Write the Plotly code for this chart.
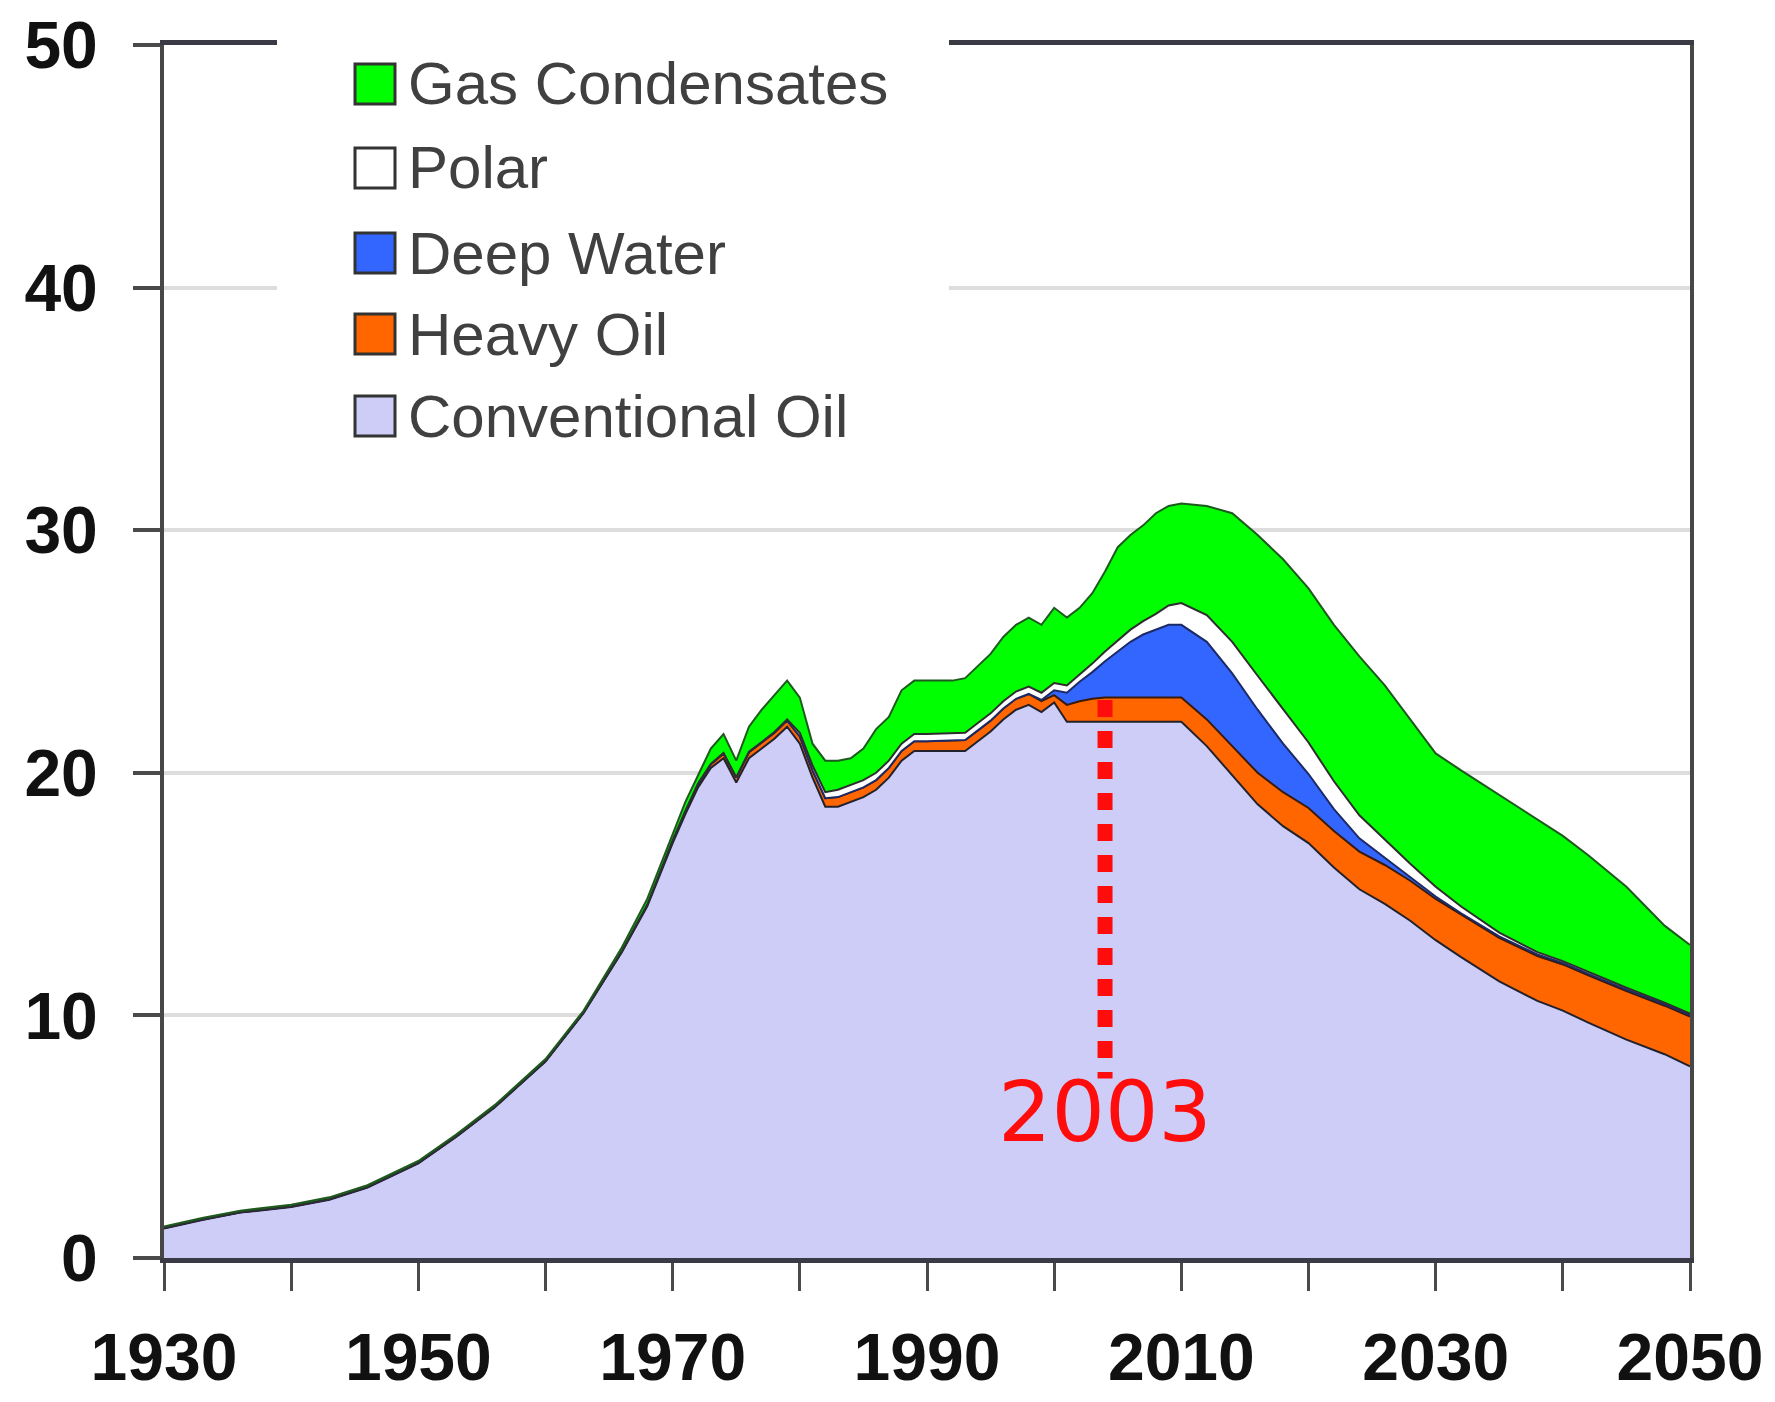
import plotly.graph_objects as go

# ---------------- data ----------------
years = [1930, 1933, 1936, 1940, 1943, 1946, 1950, 1953, 1956, 1960,
         1963, 1966, 1968, 1970, 1971, 1972, 1973, 1974, 1975, 1976,
         1977, 1978, 1979, 1980, 1981, 1982, 1983, 1984, 1985, 1986,
         1987, 1988, 1989, 1990, 1992, 1993, 1994, 1995, 1996, 1997,
         1998, 1999, 2000, 2001, 2002, 2003, 2004, 2005, 2006, 2007,
         2008, 2009, 2010, 2012, 2014, 2016, 2018, 2020, 2022, 2024,
         2026, 2028, 2030, 2032, 2035, 2038, 2040, 2042, 2045, 2048, 2050]

conventional_oil = [1.22, 1.57, 1.87, 2.1, 2.4, 2.9, 3.9, 5.0, 6.2, 8.1,
                    10.1, 12.6, 14.5, 17.1, 18.3, 19.4, 20.2, 20.6, 19.6, 20.6,
                    21.0, 21.4, 21.9, 21.2, 19.8, 18.6, 18.6, 18.8, 19.0, 19.3,
                    19.8, 20.5, 20.9, 20.9, 20.9, 20.9, 21.3, 21.7, 22.2, 22.6,
                    22.8, 22.5, 22.9, 22.1, 22.1, 22.1, 22.1, 22.1, 22.1, 22.1,
                    22.1, 22.1, 22.1, 21.1, 19.9, 18.7, 17.8, 17.1, 16.1, 15.2,
                    14.6, 13.9, 13.1, 12.4, 11.4, 10.6, 10.2, 9.7, 9.0, 8.4, 7.9]

heavy_oil = [0.02, 0.02, 0.02, 0.02, 0.02, 0.02, 0.02, 0.02, 0.02, 0.02,
             0.02, 0.03, 0.05, 0.1, 0.12, 0.15, 0.15, 0.2, 0.2, 0.25,
             0.25, 0.25, 0.25, 0.3, 0.3, 0.35, 0.4, 0.4, 0.4, 0.4,
             0.4, 0.4, 0.4, 0.4, 0.45, 0.45, 0.45, 0.45, 0.45, 0.45,
             0.45, 0.45, 0.3, 0.7, 0.85, 0.95, 1.0, 1.0, 1.0, 1.0,
             1.0, 1.0, 1.0, 1.1, 1.2, 1.3, 1.4, 1.45, 1.5, 1.55,
             1.6, 1.65, 1.7, 1.75, 1.8, 1.85, 1.9, 1.95, 2.0, 2.0, 2.05]

deep_water = [0, 0, 0, 0, 0, 0, 0, 0, 0, 0,
              0, 0, 0, 0, 0, 0, 0, 0, 0, 0,
              0, 0, 0, 0, 0, 0, 0, 0, 0, 0,
              0, 0, 0, 0, 0, 0, 0, 0, 0, 0,
              0, 0.05, 0.2, 0.5, 0.8, 1.1, 1.5, 1.9, 2.3, 2.6,
              2.8, 3.0, 3.0, 3.2, 3.0, 2.6, 2.0, 1.4, 0.9, 0.55,
              0.3, 0.15, 0.1, 0.06, 0.06, 0.06, 0.06, 0.06, 0.06, 0.06, 0.06]

polar = [0.01, 0.01, 0.01, 0.01, 0.01, 0.01, 0.01, 0.01, 0.01, 0.01,
         0.01, 0.01, 0.02, 0.02, 0.02, 0.02, 0.02, 0.02, 0.02, 0.02,
         0.02, 0.03, 0.05, 0.15, 0.2, 0.25, 0.3, 0.3, 0.3, 0.3,
         0.3, 0.3, 0.3, 0.3, 0.3, 0.3, 0.3, 0.3, 0.3, 0.3,
         0.3, 0.3, 0.3, 0.3, 0.3, 0.35, 0.4, 0.45, 0.5, 0.55,
         0.65, 0.8, 0.9, 1.1, 1.3, 1.4, 1.4, 1.3, 1.15, 0.95,
         0.75, 0.55, 0.4, 0.28, 0.15, 0.1, 0.08, 0.08, 0.08, 0.06, 0.06]

gas_condensates = [0.05, 0.05, 0.05, 0.07, 0.07, 0.07, 0.07, 0.07, 0.07, 0.07,
                   0.07, 0.16, 0.23, 0.28, 0.36, 0.33, 0.63, 0.78, 0.68, 1.03,
                   1.33, 1.52, 1.6, 1.45, 0.9, 1.3, 1.2, 1.1, 1.3, 1.8,
                   1.8, 2.2, 2.2, 2.2, 2.15, 2.25, 2.35, 2.45, 2.65, 2.75,
                   2.85, 2.8, 3.1, 2.8, 2.75, 2.9, 3.3, 3.85, 3.9, 3.95,
                   4.15, 4.1, 4.1, 4.5, 5.3, 5.8, 6.2, 6.35, 6.45, 6.55,
                   6.35, 5.95, 5.5, 5.61, 5.69, 5.49, 5.16, 4.81, 4.16, 3.18, 2.83]

x_tick_values = [1930, 1950, 1970, 1990, 2010, 2030, 2050]
x_tick_labels = ["1930", "1950", "1970", "1990", "2010", "2030", "2050"]
y_tick_values = [0, 10, 20, 30, 40, 50]
y_tick_labels = ["0", "10", "20", "30", "40", "50"]

legend_labels = ["Gas Condensates", "Polar", "Deep Water", "Heavy Oil", "Conventional Oil"]
marker_label = "2003"
marker_top_value = 23.0
marker_bottom_value = 7.4

# ---------------- styles ----------------
C_CONV = "#cdcdf7"
C_HEAVY = "#ff6600"
C_DEEP = "#3366ff"
C_POLAR = "#ffffff"
C_GAS = "#00ff00"

W, H = 1759, 1386
PL, PR, PT, PB = 156, 1682, 37, 1250


def px(fx):
    return (fx - PL) / (PR - PL)


def py(fy):
    return (PB - fy) / (PB - PT)


fig = go.Figure()

layers = [
    ("Conventional Oil", conventional_oil, C_CONV, "#22222e"),
    ("Heavy Oil", heavy_oil, C_HEAVY, "#3a1a08"),
    ("Deep Water", deep_water, C_DEEP, "#1c2a66"),
    ("Polar", polar, C_POLAR, "#2e2e2e"),
    ("Gas Condensates", gas_condensates, C_GAS, "#1d5a1d"),
]
for name, vals, fillc, linec in layers:
    fig.add_trace(go.Scatter(
        x=years, y=vals, name=name, mode="lines",
        stackgroup="one", fillcolor=fillc,
        line=dict(color=linec, width=2),
        hoverinfo="skip", showlegend=False,
    ))

tick_font = dict(family="Arial, Liberation Sans, sans-serif", size=66,
                 color="#111111", weight="bold")

fig.update_xaxes(
    range=[1930, 2050], tickmode="array", tickvals=x_tick_values,
    ticktext=x_tick_labels, ticks="outside", ticklen=28, tickwidth=3,
    tickcolor="#4a4a4a", showline=True, linewidth=5, linecolor="#3a3a44",
    mirror=True, showgrid=False, zeroline=False, tickfont=tick_font,
    ticklabelstandoff=10, automargin=False,
    minor=dict(ticks="outside", ticklen=28, tickwidth=3, tickcolor="#4a4a4a",
               tickmode="linear", tick0=1930, dtick=10, showgrid=False),
)
fig.update_yaxes(
    range=[0, 50], tickmode="array", tickvals=y_tick_values,
    ticktext=y_tick_labels, ticks="outside", ticklen=27, tickwidth=4,
    tickcolor="#4a4a4a", showline=True, linewidth=4, linecolor="#474747",
    mirror=True, showgrid=True, gridcolor="#dddddd", gridwidth=4,
    zeroline=False, tickfont=tick_font, ticklabelstandoff=22,
    automargin=False,
)

shapes = []
# white legend backdrop (hides top border and 40 gridline like the reference)
shapes.append(dict(type="rect", xref="paper", yref="paper",
                   x0=px(269), x1=px(941), y0=py(470), y1=py(-5),
                   fillcolor="white", line=dict(width=0), layer="above"))

legend_fill = [C_GAS, C_POLAR, C_DEEP, C_HEAVY, C_CONV]
legend_rows = [76, 160, 245, 326, 408]
annotations = []
for label, fillc, fy in zip(legend_labels, legend_fill, legend_rows):
    shapes.append(dict(type="rect", xref="paper", yref="paper",
                       x0=px(347), x1=px(387), y0=py(fy + 20), y1=py(fy - 20),
                       fillcolor=fillc, line=dict(color="#333333", width=3),
                       layer="above"))
    annotations.append(dict(xref="paper", yref="paper", x=px(398), y=py(fy),
                            xanchor="left", yanchor="middle", text=label,
                            showarrow=False,
                            font=dict(family="Arial, Liberation Sans, sans-serif",
                                      size=60, color="#404040")))

# red dotted marker line for 2003
shapes.append(dict(type="line", xref="x", yref="y",
                   x0=2004.0, x1=2004.0, y0=marker_top_value, y1=marker_bottom_value,
                   line=dict(color="#ff0d0d", width=15, dash="17px,14px"),
                   layer="above"))
annotations.append(dict(xref="x", yref="y", x=2004.0, y=6.0, text=marker_label,
                        showarrow=False, xanchor="center", yanchor="middle",
                        font=dict(family="DejaVu Sans, sans-serif", size=84,
                                  color="#ff0d0d")))

fig.update_layout(
    width=W, height=H,
    margin=dict(l=PL, r=W - PR, t=PT, b=H - PB, pad=0, autoexpand=False),
    paper_bgcolor="white", plot_bgcolor="white",
    showlegend=False, shapes=shapes, annotations=annotations,
)

fig.write_html("out.html")
